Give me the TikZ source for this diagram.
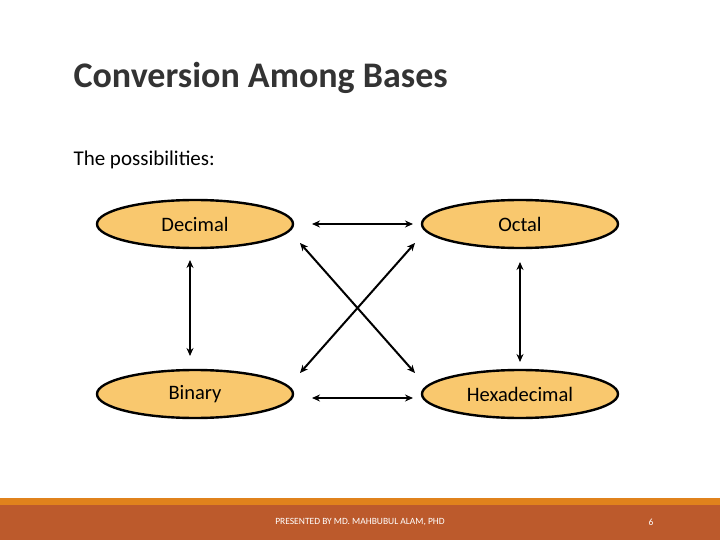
\documentclass[tikz,border=0pt]{standalone}
\usepackage{fontspec}
\setmainfont{Carlito}
\usetikzlibrary{arrows.meta,shapes.geometric}
\definecolor{basefill}{HTML}{F9C86E}
\definecolor{bandtop}{HTML}{E0821C}
\definecolor{banddark}{HTML}{BC5A2C}
\tikzset{
  base/.style = {draw,ellipse,line width=2.4pt,fill=basefill,minimum width=196pt,minimum height=48pt,font=\fontsize{20.5}{24}\selectfont},
  link/.style = {line width=2pt,{Stealth[length=8pt,width=7pt]}-{Stealth[length=8pt,width=7pt]}}
}
\begin{document}
\begin{tikzpicture}[x=1pt,y=-1pt]
	\useasboundingbox (0,0) rectangle (720,540);
	%footer band
	\fill[bandtop] (0,498) rectangle (720,506);
	\fill[banddark] (0,505) rectangle (720,540);
	\node[white,font=\fontsize{9.5}{11}\selectfont] (foot) at (360,522) {PRESENTED BY MD. MAHBUBUL ALAM, PHD};
	\node[white,font=\fontsize{9.5}{11}\selectfont] (page) at (651,522) {6};
	%title and lead-in
	\node[anchor=west,font=\bfseries\fontsize{36}{42}\selectfont,text=black!80] (title) at (70,78) {Conversion Among Bases};
	\node[anchor=west,font=\fontsize{21}{25}\selectfont] (lead) at (70,160) {The possibilities:};
	%the four bases
	\node[base] (dec) at (195,224) {Decimal};
	\node[base] (oct) at (520,224) {Octal};
	\node[base] (bin) at (195,394) {Binary};
	\node[base] (hex) at (520,394) {\raisebox{-6pt}{Hexadecimal}};
	%conversions
	\coordinate (dT) at (312,224); \coordinate (oT) at (413,224);
	\coordinate (bT) at (312,398); \coordinate (hT) at (413,398);
	\draw[link] (dT) -- (oT);
	\draw[link] (bT) -- (hT);
	\coordinate (dB) at (190,260); \coordinate (bB) at (190,356);
	\coordinate (oB) at (520,262); \coordinate (hB) at (520,362);
	\draw[link] (dB) -- (bB);
	\draw[link] (oB) -- (hB);
	\coordinate (dD) at (300,243); \coordinate (hD) at (415,373);
	\coordinate (oD) at (415,243); \coordinate (bD) at (300,373);
	\draw[link] (dD) -- (hD);
	\draw[link] (oD) -- (bD);
\end{tikzpicture}
\end{document}
